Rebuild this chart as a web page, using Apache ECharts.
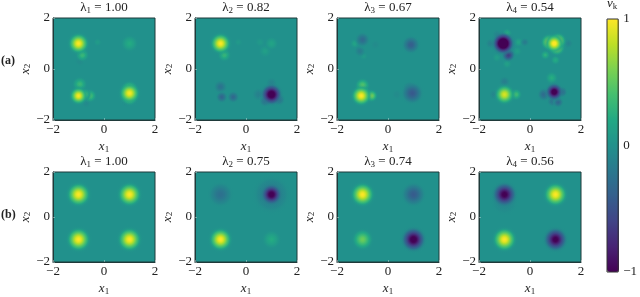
<!DOCTYPE html>
<html><head><meta charset="utf-8">
<style>html,body{margin:0;padding:0;background:#fff}#c{width:640px;height:297px}</style>
<script src="https://cdn.jsdelivr.net/npm/echarts@6/dist/echarts.min.js"></script>
</head><body><div id="c"></div>
<script>
// Field features: [x1, x2, peak value, radius]
const a1 = [[-0.25,1.05,0.09,0.2],[-0.95,0.3,-0.05,0.24],[-0.7,-1.35,-0.06,0.24],[1.0,1.0,0.22,0.44],[0.85,-1.3,-0.04,0.24],[-0.85,0.55,0.34,0.34],[-0.95,-0.6,0.34,0.38],[-0.55,-1.05,0.42,0.34],[-0.75,-1.0,0.42,0.32],[-1.0,-1.05,0.98,0.46],[1.0,-0.95,0.98,0.54],[1.0,-1.1,0.82,0.42],[1.0,-0.8,0.78,0.42],[-1.0,1.0,1.0,0.54]];
const a2 = [[-0.3,1.05,0.07,0.2],[1.0,1.0,0.16,0.34],[0.75,0.7,0.12,0.32],[0.55,1.05,0.07,0.24],[-0.85,0.55,0.32,0.34],[-1.0,-0.7,-0.24,0.34],[-0.95,-1.1,-0.34,0.3],[-0.5,-1.1,-0.32,0.3],[0.5,-1.0,-0.14,0.34],[1.0,-0.55,-0.12,0.28],[1.3,-1.2,-0.28,0.3],[0.75,-1.25,-0.3,0.3],[1.0,-1.0,-1.2,0.56],[-1.0,1.0,1.0,0.54]];
const a3 = [[-0.95,0.5,0.08,0.2],[-0.5,0.95,-0.05,0.24],[-1.3,1.0,0.17,0.24],[-1.1,0.7,-0.17,0.28],[-1.0,1.15,-0.3,0.38],[0.9,0.95,-0.4,0.46],[0.95,-0.95,-0.44,0.56],[0.85,-0.75,-0.24,0.34],[0.35,-1.0,-0.05,0.26],[-1.0,-0.65,0.48,0.38],[-0.65,-1.05,0.62,0.32],[-0.9,-1.0,0.58,0.36],[-1.05,-1.05,1.0,0.52]];
const a4 = [[-1.55,1.0,-0.14,0.26],[-1.3,1.35,-0.1,0.24],[-0.9,1.4,0.26,0.24],[-0.45,1.05,0.17,0.24],[-0.2,1.05,-0.17,0.22],[-0.5,0.7,0.11,0.24],[-1.3,0.45,0.11,0.24],[-0.9,0.2,0.13,0.24],[1.5,1.0,-0.11,0.24],[0.6,0.55,0.28,0.24],[1.0,0.35,0.22,0.24],[0.85,-0.35,0.24,0.32],[-1.0,-0.5,-0.15,0.28],[-1.4,-1.0,-0.11,0.26],[-0.55,-1.0,0.38,0.3],[1.25,-0.9,-0.34,0.28],[1.1,-1.3,-0.34,0.28],[0.55,-1.0,-0.3,0.34],[0.9,-1.25,-0.28,0.3],[-0.85,0.55,-0.68,0.34],[-1.0,-1.0,0.88,0.52],[0.95,-0.9,-1.15,0.46],[1.05,0.85,0.85,0.42],[0.75,1.05,0.85,0.42],[1.1,1.1,0.9,0.42],[0.95,1.0,1.05,0.48],[-1.05,1.0,-1.5,0.58]];
const b1 = [[-1,1,1,0.62],[1,1,1,0.62],[-1,-1,1,0.62],[1,-1,1,0.62]];
const b2 = [[1,1,-0.26,0.95],[-1,1,-0.26,0.64],[1,-1,0.22,0.48],[-1,-1,1,0.6],[1,1,-1.1,0.56]];
const b3 = [[1,1,-0.42,0.62],[-1,-1,0.54,0.54],[-1,1,1,0.62],[1,-1,-1.1,0.64]];
const b4 = [[-1,0.7,-0.12,0.7],[1,-1,-1.05,0.62],[-1,1,-1.05,0.64],[1,1,1,0.62],[-1,-1,1,0.62]];
const panelFields = [a1,a2,a3,a4,b1,b2,b3,b4];
const lambdaIndex = [1,2,3,4,1,2,3,4];
const lambdaValues = ['1.00','0.82','0.67','0.54','1.00','0.75','0.74','0.56'];
const panelTicks = [-2,0,2];
const colorbarTicks = [-1,0,1];
const viridis = ['#440154','#482475','#414487','#355f8d','#2a788e','#21918c','#22a884','#44bf70','#7ad151','#bddf26','#fde725'];

const SERIF = '"Liberation Serif","DejaVu Serif",serif';
const INK = '#222';
const hex = c => [1,3,5].map(i => parseInt(c.substr(i,2),16));
function colormap(v){
  const t = Math.max(0,Math.min(1,(v+1)/2))*(viridis.length-1);
  const i = Math.min(viridis.length-2,Math.floor(t)), f = t-i;
  const A = hex(viridis[i]), B = hex(viridis[i+1]);
  return A.map((a,k)=>Math.round(a+(B[k]-a)*f));
}
function renderFeature(params, api){
  const c = api.coord([api.value(0),api.value(1)]);
  const r = api.size([api.value(3),0])[0];
  const amp = api.value(2);
  const stops = [];
  for(let s=0;s<=16;s++){
    const t = s/16, g = Math.exp(-3.8*t*t)*(1-t*t*t*t);
    const rgb = colormap(amp*g);
    const alpha = Math.min(1, g*4);
    stops.push({offset:t,color:`rgba(${rgb[0]},${rgb[1]},${rgb[2]},${alpha.toFixed(3)})`});
  }
  return {type:'circle',shape:{cx:c[0],cy:c[1],r:r},
    style:{fill:new echarts.graphic.RadialGradient(0.5,0.5,0.5,stops)}};
}
const lefts=[53,195,337,479], tops=[18,172], SIZE=102;
const grids=[],xAxes=[],yAxes=[],series=[],titles=[];
const mathRich={i:{fontFamily:SERIF,fontStyle:'italic',fontWeight:'normal',fontSize:13,color:INK},
  s:{fontFamily:SERIF,fontWeight:'normal',fontSize:9,color:INK,verticalAlign:'bottom',padding:[5,0,0,0]},
  t:{fontFamily:SERIF,fontWeight:'normal',fontSize:13,color:INK}};
const tickFmt=v=>String(v).replace('-','\u2212');
panelFields.forEach((field,n)=>{
  const col=n%4,row=n<4?0:1;
  grids.push({left:lefts[col],top:tops[row],width:SIZE,height:SIZE,show:true,backgroundColor:'#21918c',borderColor:'#1f3a3a',borderWidth:1});
  const ax={min:panelTicks[0],max:panelTicks[2],interval:panelTicks[2],gridIndex:n,type:'value',splitLine:{show:false},
    axisLine:{show:true,onZero:false,lineStyle:{color:'#1f3a3a',width:1}},
    axisTick:{show:true,inside:true,length:2,lineStyle:{color:'rgba(255,255,255,0.35)',width:1}},
    axisLabel:{fontFamily:SERIF,fontSize:13,color:INK,formatter:tickFmt},nameLocation:'middle',nameTextStyle:{rich:mathRich}};
  xAxes.push(Object.assign({},ax,{position:'bottom',name:'{i|x}{s|1}',nameGap:20,axisLabel:Object.assign({},ax.axisLabel,{margin:3})}));
  yAxes.push(Object.assign({},ax,{position:'left',name:'{i|x}{s|2}',nameGap:13,nameRotate:90,axisLabel:Object.assign({},ax.axisLabel,{margin:3})}));
  const data=field.slice().sort((p,q)=>Math.abs(p[2])-Math.abs(q[2]));
  series.push({type:'custom',xAxisIndex:n,yAxisIndex:n,data:data,encode:{x:0,y:1},renderItem:renderFeature,silent:true,animation:false,clip:true});
  titles.push({text:`{t|\u03bb}{s|${lambdaIndex[n]}}{t| = ${lambdaValues[n]}}`,left:lefts[col]+SIZE/2,top:tops[row]-17,textAlign:'center',
    padding:0,textStyle:{rich:mathRich,fontFamily:SERIF,fontSize:13,fontWeight:'normal'}});
});
titles.push({text:'(a)',left:1,top:55,padding:0,textStyle:{fontFamily:SERIF,fontWeight:'bold',fontSize:12,color:INK}});
titles.push({text:'(b)',left:1,top:209,padding:0,textStyle:{fontFamily:SERIF,fontWeight:'bold',fontSize:12,color:INK}});
titles.push({text:'{i|v}{s|k}',left:607,top:-3,padding:0,textStyle:{rich:mathRich,fontWeight:'normal'}});
// colour bar scale
grids.push({left:607,top:19,width:12,height:253,show:true,backgroundColor:'transparent',borderColor:'#333',borderWidth:1,z:6});
xAxes.push({gridIndex:8,type:'value',show:false,min:0,max:1});
yAxes.push({gridIndex:8,type:'value',position:'right',min:colorbarTicks[0],max:colorbarTicks[2],interval:1,splitLine:{show:false},
  axisLine:{show:false},axisTick:{show:false},axisLabel:{fontFamily:SERIF,fontSize:13,color:INK,margin:5,formatter:tickFmt}});
series.push({type:'scatter',xAxisIndex:8,yAxisIndex:8,data:[],silent:true});
const option={animation:false,backgroundColor:'#fff',title:titles,grid:grids,xAxis:xAxes,yAxis:yAxes,series:series,
  visualMap:{type:'continuous',min:colorbarTicks[0],max:colorbarTicks[2],seriesIndex:8,inRange:{color:viridis},left:607,top:19,itemWidth:12,itemHeight:253,text:null,showLabel:false,calculable:false,hoverLink:false,realtime:false,padding:0,borderWidth:0,z:1,textStyle:{fontSize:0}}};
const chart=echarts.init(document.getElementById('c'),null,{renderer:'canvas'});
chart.setOption(option);
</script></body></html>
